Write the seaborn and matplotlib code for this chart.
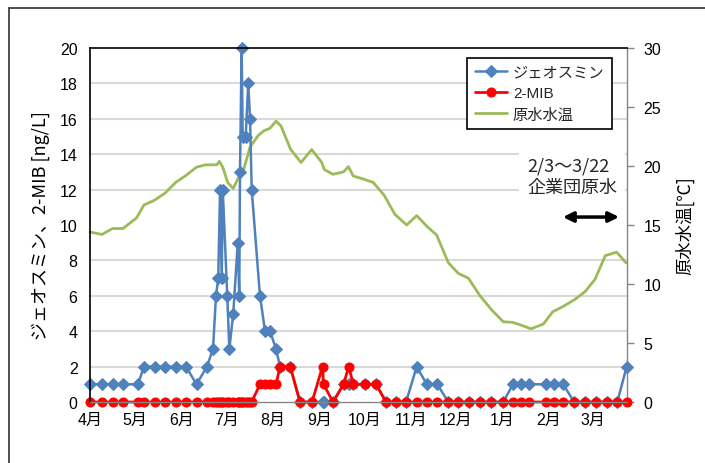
import numpy as np
import matplotlib
matplotlib.use("Agg")
import matplotlib.pyplot as plt
import seaborn as sns
from matplotlib.lines import Line2D

# ---- data (x = days since 4/1) ----
month_days = [0, 30, 61, 91, 122, 153, 183, 214, 244, 275, 306, 335]
month_labels = ["4月", "5月", "6月", "7月", "8月", "9月", "10月", "11月", "12月", "1月", "2月", "3月"]

sample_days = [0, 8, 15, 22, 32, 36, 43, 50, 57, 64, 71, 78, 82, 84, 85.5, 86.7, 87.8, 88.5,
               91.5, 92.9, 95.5, 98.5, 99.5, 100, 101.1, 101.8, 103.8, 105.5, 106.7, 107.8,
               113.3, 116.7, 120, 124, 126.7, 133.5, 140, 148, 155, 155.7, 162, 169, 172.5,
               175.5, 183.3, 190.7, 197.3, 204, 210.7, 217.8, 224.5, 231.5, 238.9, 245.5,
               252.9, 260, 267.1, 275.5, 282, 287.1, 292.9, 304, 309.3, 315.5, 322.7, 330,
               337.3, 344.5, 351.5, 357.8]
geosmin = [1, 1, 1, 1, 1, 2, 2, 2, 2, 2, 1, 2, 3, 6, 7, 12, 7, 12,
           6, 3, 5, 9, 6, 13, 20, 15, 15, 18, 16, 12,
           6, 4, 4, 3, 2, 2, 0, 0, 0, 0, 0, 1, 1,
           1, 1, 1, 0, 0, 0, 2, 1, 1, 0, 0,
           0, 0, 0, 0, 1, 1, 1, 1, 1, 1, 0, 0,
           0, 0, 0, 2]
mib = [0, 0, 0, 0, 0, 0, 0, 0, 0, 0, 0, 0, 0, 0, 0, 0, 0, 0,
       0, 0, 0, 0, 0, 0, 0, 0, 0, 0, 0, 0,
       1, 1, 1, 1, 2, 2, 0, 0, 2, 1, 0, 1, 2,
       1, 1, 1, 0, 0, 0, 0, 0, 0, 0, 0,
       0, 0, 0, 0, 0, 0, 0, 0, 0, 0, 0, 0,
       0, 0, 0, 0]

temp_days = [0, 8, 15, 22, 31, 36, 43, 50, 57, 64, 71, 77, 84.5, 86.2, 88.5, 91.8, 95.5,
             98.9, 102.2, 106.7, 112.2, 116.2, 120, 124, 127.3, 133.8, 140.7, 147.8, 154.5,
             156.2, 162, 169, 172.3, 175.5, 182.2, 188.9, 196.2, 203.3, 211.1, 217.8, 224.5,
             231.1, 238.9, 245.5, 252.2, 260, 267.8, 275.5, 281.8, 287.8, 294, 302.2, 308.5,
             315.5, 323.3, 330, 336.7, 343.5, 351.1, 357.3]
temp_values = [14.4, 14.2, 14.7, 14.7, 15.6, 16.7, 17.1, 17.7, 18.6, 19.2, 19.9, 20.1, 20.1,
               20.4, 19.9, 18.6, 18.1, 19.0, 19.6, 21.6, 22.6, 23.0, 23.2, 23.8, 23.4, 21.4,
               20.3, 21.4, 20.3, 19.7, 19.3, 19.5, 19.95, 19.15, 18.9, 18.6, 17.5, 15.9, 15.0,
               15.8, 14.9, 14.15, 11.8, 10.9, 10.5, 9.0, 7.8, 6.8, 6.75, 6.5, 6.2, 6.6, 7.65,
               8.1, 8.7, 9.35, 10.4, 12.4, 12.7, 11.8]

series_labels = ["ジェオスミン", "2-MIB", "原水水温"]

BLUE = "#4F81BD"
RED = "#FF0000"
GREEN = "#9BBB59"
GRID = "#D9D9D9"
AXGREY = "#868686"

sns.set_theme(style="white")
plt.rcParams["font.family"] = ["Liberation Sans", "Noto Sans CJK JP"]
plt.rcParams["axes.unicode_minus"] = False
CJK = ["Noto Sans CJK JP", "Liberation Sans"]

fig = plt.figure(figsize=(7.05, 4.64), dpi=100)
fig.patch.set_facecolor("white")
W, H = 705, 464
L, R, T, B = 90, 627, 49, 403
ax = fig.add_axes([L / W, 1 - B / H, (R - L) / W, (B - T) / H])
ax2 = ax.twinx()
ax.set_zorder(ax2.get_zorder() + 1)
ax.patch.set_visible(False)
ax2.patch.set_facecolor("white")

# temperature (right axis, behind)
sns.lineplot(x=temp_days, y=temp_values, ax=ax2, color=GREEN, lw=2.0, sort=False,
             estimator=None, legend=False, clip_on=False)
# geosmin and 2-MIB (left axis)
sns.lineplot(x=sample_days, y=geosmin, ax=ax, color=BLUE, lw=1.8, marker="D", markersize=6,
             markeredgecolor=BLUE, markerfacecolor=BLUE, sort=False, estimator=None,
             legend=False, clip_on=False)
sns.lineplot(x=sample_days, y=mib, ax=ax, color=RED, lw=2.0, marker="o", markersize=6.5,
             markeredgecolor=RED, markerfacecolor=RED, sort=False, estimator=None,
             legend=False, clip_on=False)

ax.set_xlim(0, 358)
ax.set_ylim(0, 20)
ax2.set_ylim(0, 30)

ax.set_xticks(month_days)
ax.set_xticklabels(month_labels)
ax.set_yticks(np.arange(0, 21, 2))
ax.tick_params(axis="x", length=0, pad=7, labelsize=11.5, colors="black")
ax.tick_params(axis="y", length=0, pad=9, labelsize=11.5, colors="black")
ax.set_xlabel("")

ax2.set_yticks(np.arange(0, 31, 5))
ax2.set_yticks(np.arange(0, 31, 3), minor=True)
ax2.grid(which="minor", axis="y", color=GRID, lw=1.5)
ax2.grid(which="major", visible=False)
ax2.tick_params(axis="y", which="major", length=5, width=1, color=AXGREY, direction="out",
                pad=7, labelsize=11.5, labelcolor="black")
ax2.tick_params(axis="y", which="minor", length=0)

for s in ["left", "top"]:
    ax.spines[s].set_color("black")
    ax.spines[s].set_linewidth(1.2)
ax.spines["right"].set_visible(False)
ax.spines["bottom"].set_color(AXGREY)
ax.spines["bottom"].set_linewidth(1.0)
for s in ["left", "top", "bottom"]:
    ax2.spines[s].set_visible(False)
ax2.spines["right"].set_color(AXGREY)
ax2.spines["right"].set_linewidth(1.0)

ax.set_ylabel("ジェオスミン、2-MIB [ng/L]", fontsize=13, labelpad=7, color="black",
              family=CJK)
ax2.set_ylabel("原水水温[℃]", fontsize=12.5, labelpad=10, color="black", family=CJK)

# legend
handles = [ax.get_lines()[0], ax.get_lines()[1], ax2.get_lines()[0]]
leg = ax.legend(handles, series_labels, loc="upper left", bbox_to_anchor=(0.702, 0.972),
                borderaxespad=0, frameon=True, fancybox=False, framealpha=1,
                edgecolor="black", fontsize=11, handlelength=2.1, labelspacing=0.45,
                borderpad=0.5, handletextpad=0.4)
leg.get_frame().set_linewidth(1.2)
leg.set_zorder(10)

# annotation
ax.text(291.5, 12.75, "2/3〜3/22\n企業団原水", ha="left", va="center", fontsize=13,
        linespacing=1.3, multialignment="left", family=CJK,
        bbox=dict(boxstyle="square,pad=0.45", fc="white", ec="none"), zorder=5)
ax.annotate("", xy=(352.7, 10.45), xytext=(315.3, 10.45),
            arrowprops=dict(arrowstyle="<|-|>", color="black", lw=2.5, mutation_scale=15,
                            shrinkA=0, shrinkB=0), zorder=6)

# outer frame of the figure (left and top edges visible)
fig.add_artist(Line2D([9 / W, 9 / W], [0, 1 - 9 / H], transform=fig.transFigure,
                      color="#404040", lw=1.3))
fig.add_artist(Line2D([9 / W, 1], [1 - 9 / H, 1 - 9 / H], transform=fig.transFigure,
                      color="#404040", lw=1.3))

fig.savefig("out.png", dpi=100, facecolor="white")
